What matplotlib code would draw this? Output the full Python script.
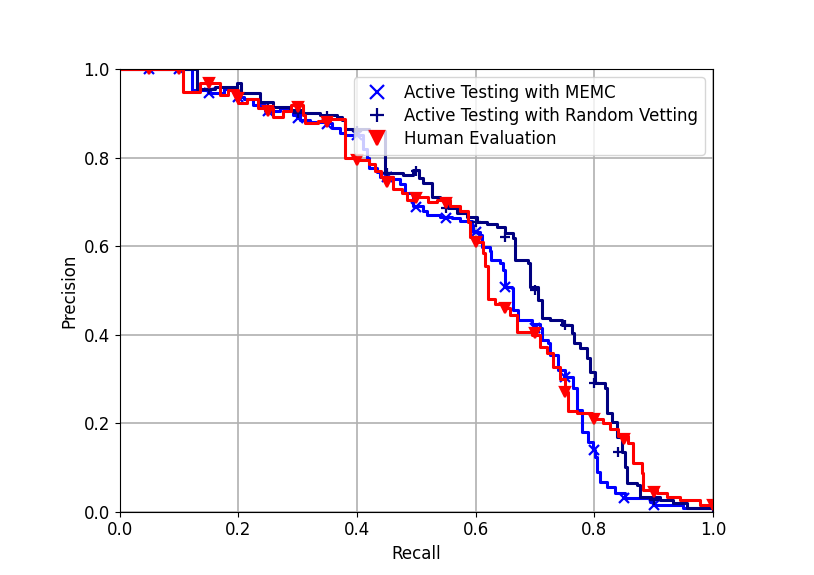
import numpy as np
import matplotlib
matplotlib.use('Agg')
import matplotlib.pyplot as plt

plt.rcParams['font.size'] = 12

# precision / recall curves (steps-post form)
memc_recall = [0.000, 0.122, 0.150, 0.175, 0.197, 0.210, 0.224, 0.245, 0.270, 0.283,
               0.292, 0.304, 0.320, 0.349, 0.357, 0.371, 0.379, 0.400, 0.410, 0.417,
               0.420, 0.433, 0.438, 0.460, 0.472, 0.481, 0.494, 0.511, 0.518, 0.540,
               0.560, 0.573, 0.594, 0.596, 0.607, 0.610, 0.624, 0.626, 0.641, 0.646,
               0.649, 0.661, 0.663, 0.671, 0.695, 0.708, 0.711, 0.722, 0.725, 0.739,
               0.750, 0.764, 0.771, 0.779, 0.789, 0.797, 0.801, 0.804, 0.809, 0.821,
               0.835, 0.851, 0.894, 0.900, 0.949, 1.000]
memc_precision = [1.000, 0.953, 0.946, 0.955, 0.937, 0.932, 0.919, 0.905, 0.912, 0.907,
                  0.896, 0.885, 0.880, 0.878, 0.867, 0.856, 0.851, 0.850, 0.820, 0.800,
                  0.777, 0.768, 0.756, 0.752, 0.740, 0.720, 0.690, 0.680, 0.670, 0.666,
                  0.664, 0.656, 0.648, 0.632, 0.624, 0.598, 0.590, 0.569, 0.562, 0.546,
                  0.508, 0.506, 0.456, 0.433, 0.424, 0.415, 0.388, 0.381, 0.354, 0.321,
                  0.305, 0.280, 0.230, 0.181, 0.158, 0.140, 0.124, 0.090, 0.068, 0.056,
                  0.043, 0.032, 0.023, 0.016, 0.009, 0.005]

random_recall = [0.000, 0.130, 0.160, 0.197, 0.205, 0.224, 0.236, 0.258, 0.287, 0.309,
                 0.337, 0.366, 0.374, 0.380, 0.420, 0.447, 0.477, 0.494, 0.505, 0.511,
                 0.526, 0.540, 0.553, 0.568, 0.585, 0.602, 0.619, 0.636, 0.649, 0.663,
                 0.666, 0.688, 0.691, 0.705, 0.711, 0.725, 0.745, 0.762, 0.765, 0.776,
                 0.787, 0.792, 0.801, 0.818, 0.821, 0.830, 0.838, 0.846, 0.852, 0.855,
                 0.872, 0.877, 0.910, 0.933, 0.956, 1.000]
random_precision = [1.000, 0.955, 0.960, 0.968, 0.946, 0.945, 0.926, 0.914, 0.907, 0.900,
                    0.896, 0.892, 0.885, 0.865, 0.860, 0.765, 0.760, 0.772, 0.754, 0.742,
                    0.711, 0.704, 0.686, 0.675, 0.666, 0.655, 0.650, 0.643, 0.630, 0.618,
                    0.569, 0.562, 0.508, 0.479, 0.438, 0.432, 0.422, 0.404, 0.381, 0.370,
                    0.347, 0.316, 0.291, 0.280, 0.223, 0.203, 0.169, 0.135, 0.102, 0.065,
                    0.061, 0.034, 0.027, 0.020, 0.009, 0.005]

human_recall = [0.000, 0.106, 0.135, 0.169, 0.182, 0.199, 0.215, 0.233, 0.258, 0.275,
                0.288, 0.309, 0.313, 0.335, 0.355, 0.380, 0.400, 0.420, 0.430, 0.440,
                0.460, 0.475, 0.484, 0.500, 0.520, 0.535, 0.556, 0.573, 0.587, 0.590,
                0.604, 0.612, 0.615, 0.620, 0.632, 0.646, 0.658, 0.669, 0.695, 0.708,
                0.720, 0.730, 0.742, 0.750, 0.756, 0.771, 0.796, 0.815, 0.826, 0.840,
                0.857, 0.865, 0.880, 0.882, 0.905, 0.922, 0.944, 0.978, 1.000]
human_precision = [1.000, 0.948, 0.968, 0.941, 0.952, 0.923, 0.932, 0.912, 0.892, 0.905,
                   0.919, 0.896, 0.878, 0.882, 0.887, 0.800, 0.795, 0.785, 0.770, 0.755,
                   0.730, 0.720, 0.705, 0.712, 0.700, 0.705, 0.690, 0.680, 0.655, 0.620,
                   0.610, 0.585, 0.555, 0.480, 0.470, 0.460, 0.445, 0.406, 0.400, 0.373,
                   0.358, 0.327, 0.300, 0.271, 0.228, 0.222, 0.210, 0.200, 0.188, 0.170,
                   0.155, 0.110, 0.088, 0.050, 0.042, 0.034, 0.026, 0.016, 0.008]

# marker positions
memc_mk_r = [0.05, 0.10, 0.15, 0.20, 0.25, 0.30, 0.35, 0.40, 0.45, 0.50, 0.55, 0.60,
             0.65, 0.70, 0.75, 0.80, 0.85, 0.90]
memc_mk_p = [1.000, 1.000, 0.946, 0.937, 0.905, 0.890, 0.876, 0.850, 0.755, 0.688,
             0.664, 0.632, 0.508, 0.415, 0.305, 0.140, 0.032, 0.016]
random_mk_r = [0.05, 0.10, 0.15, 0.20, 0.25, 0.30, 0.35, 0.40, 0.45, 0.50, 0.55, 0.60,
               0.65, 0.70, 0.75, 0.80, 0.84, 0.90]
random_mk_p = [1.000, 1.000, 0.955, 0.950, 0.914, 0.900, 0.893, 0.860, 0.765, 0.770,
               0.686, 0.655, 0.620, 0.500, 0.422, 0.291, 0.135, 0.027]
human_mk_r = [0.05, 0.10, 0.15, 0.20, 0.25, 0.30, 0.35, 0.40, 0.45, 0.50, 0.55, 0.60,
              0.65, 0.70, 0.75, 0.80, 0.85, 0.90, 1.00]
human_mk_p = [1.000, 1.000, 0.968, 0.935, 0.905, 0.915, 0.880, 0.795, 0.745, 0.709,
              0.697, 0.610, 0.460, 0.404, 0.271, 0.210, 0.165, 0.045, 0.016]

fig = plt.figure(figsize=(8.14, 5.75), dpi=100)
ax = fig.add_axes([0.147, 0.11, 0.729, 0.77])

series = [
    (memc_recall, memc_precision, memc_mk_r, memc_mk_p, 'blue', 'x', 'Active Testing with MEMC'),
    (random_recall, random_precision, random_mk_r, random_mk_p, 'navy', '+', 'Active Testing with Random Vetting'),
    (human_recall, human_precision, human_mk_r, human_mk_p, 'red', 'v', 'Human Evaluation'),
]
for r, p, mr, mp, c, m, lab in series:
    ax.plot(r, p, color=c, lw=2.2, drawstyle='steps-post')
    ax.plot(mr, mp, ls='none', marker=m, color=c, markersize=7, mew=1.6, label=lab)

ax.set_xlim(0, 1)
ax.set_ylim(0, 1)
ax.set_xticks(np.arange(0, 1.01, 0.2))
ax.set_yticks(np.arange(0, 1.01, 0.2))
ax.grid(True, color='#b0b0b0', lw=1.2)
ax.set_xlabel('Recall')
ax.set_ylabel('Precision')
ax.legend(loc='upper right', markerscale=1.4, labelspacing=0.3, handletextpad=0.6)

fig.savefig('out.png', dpi=100)
